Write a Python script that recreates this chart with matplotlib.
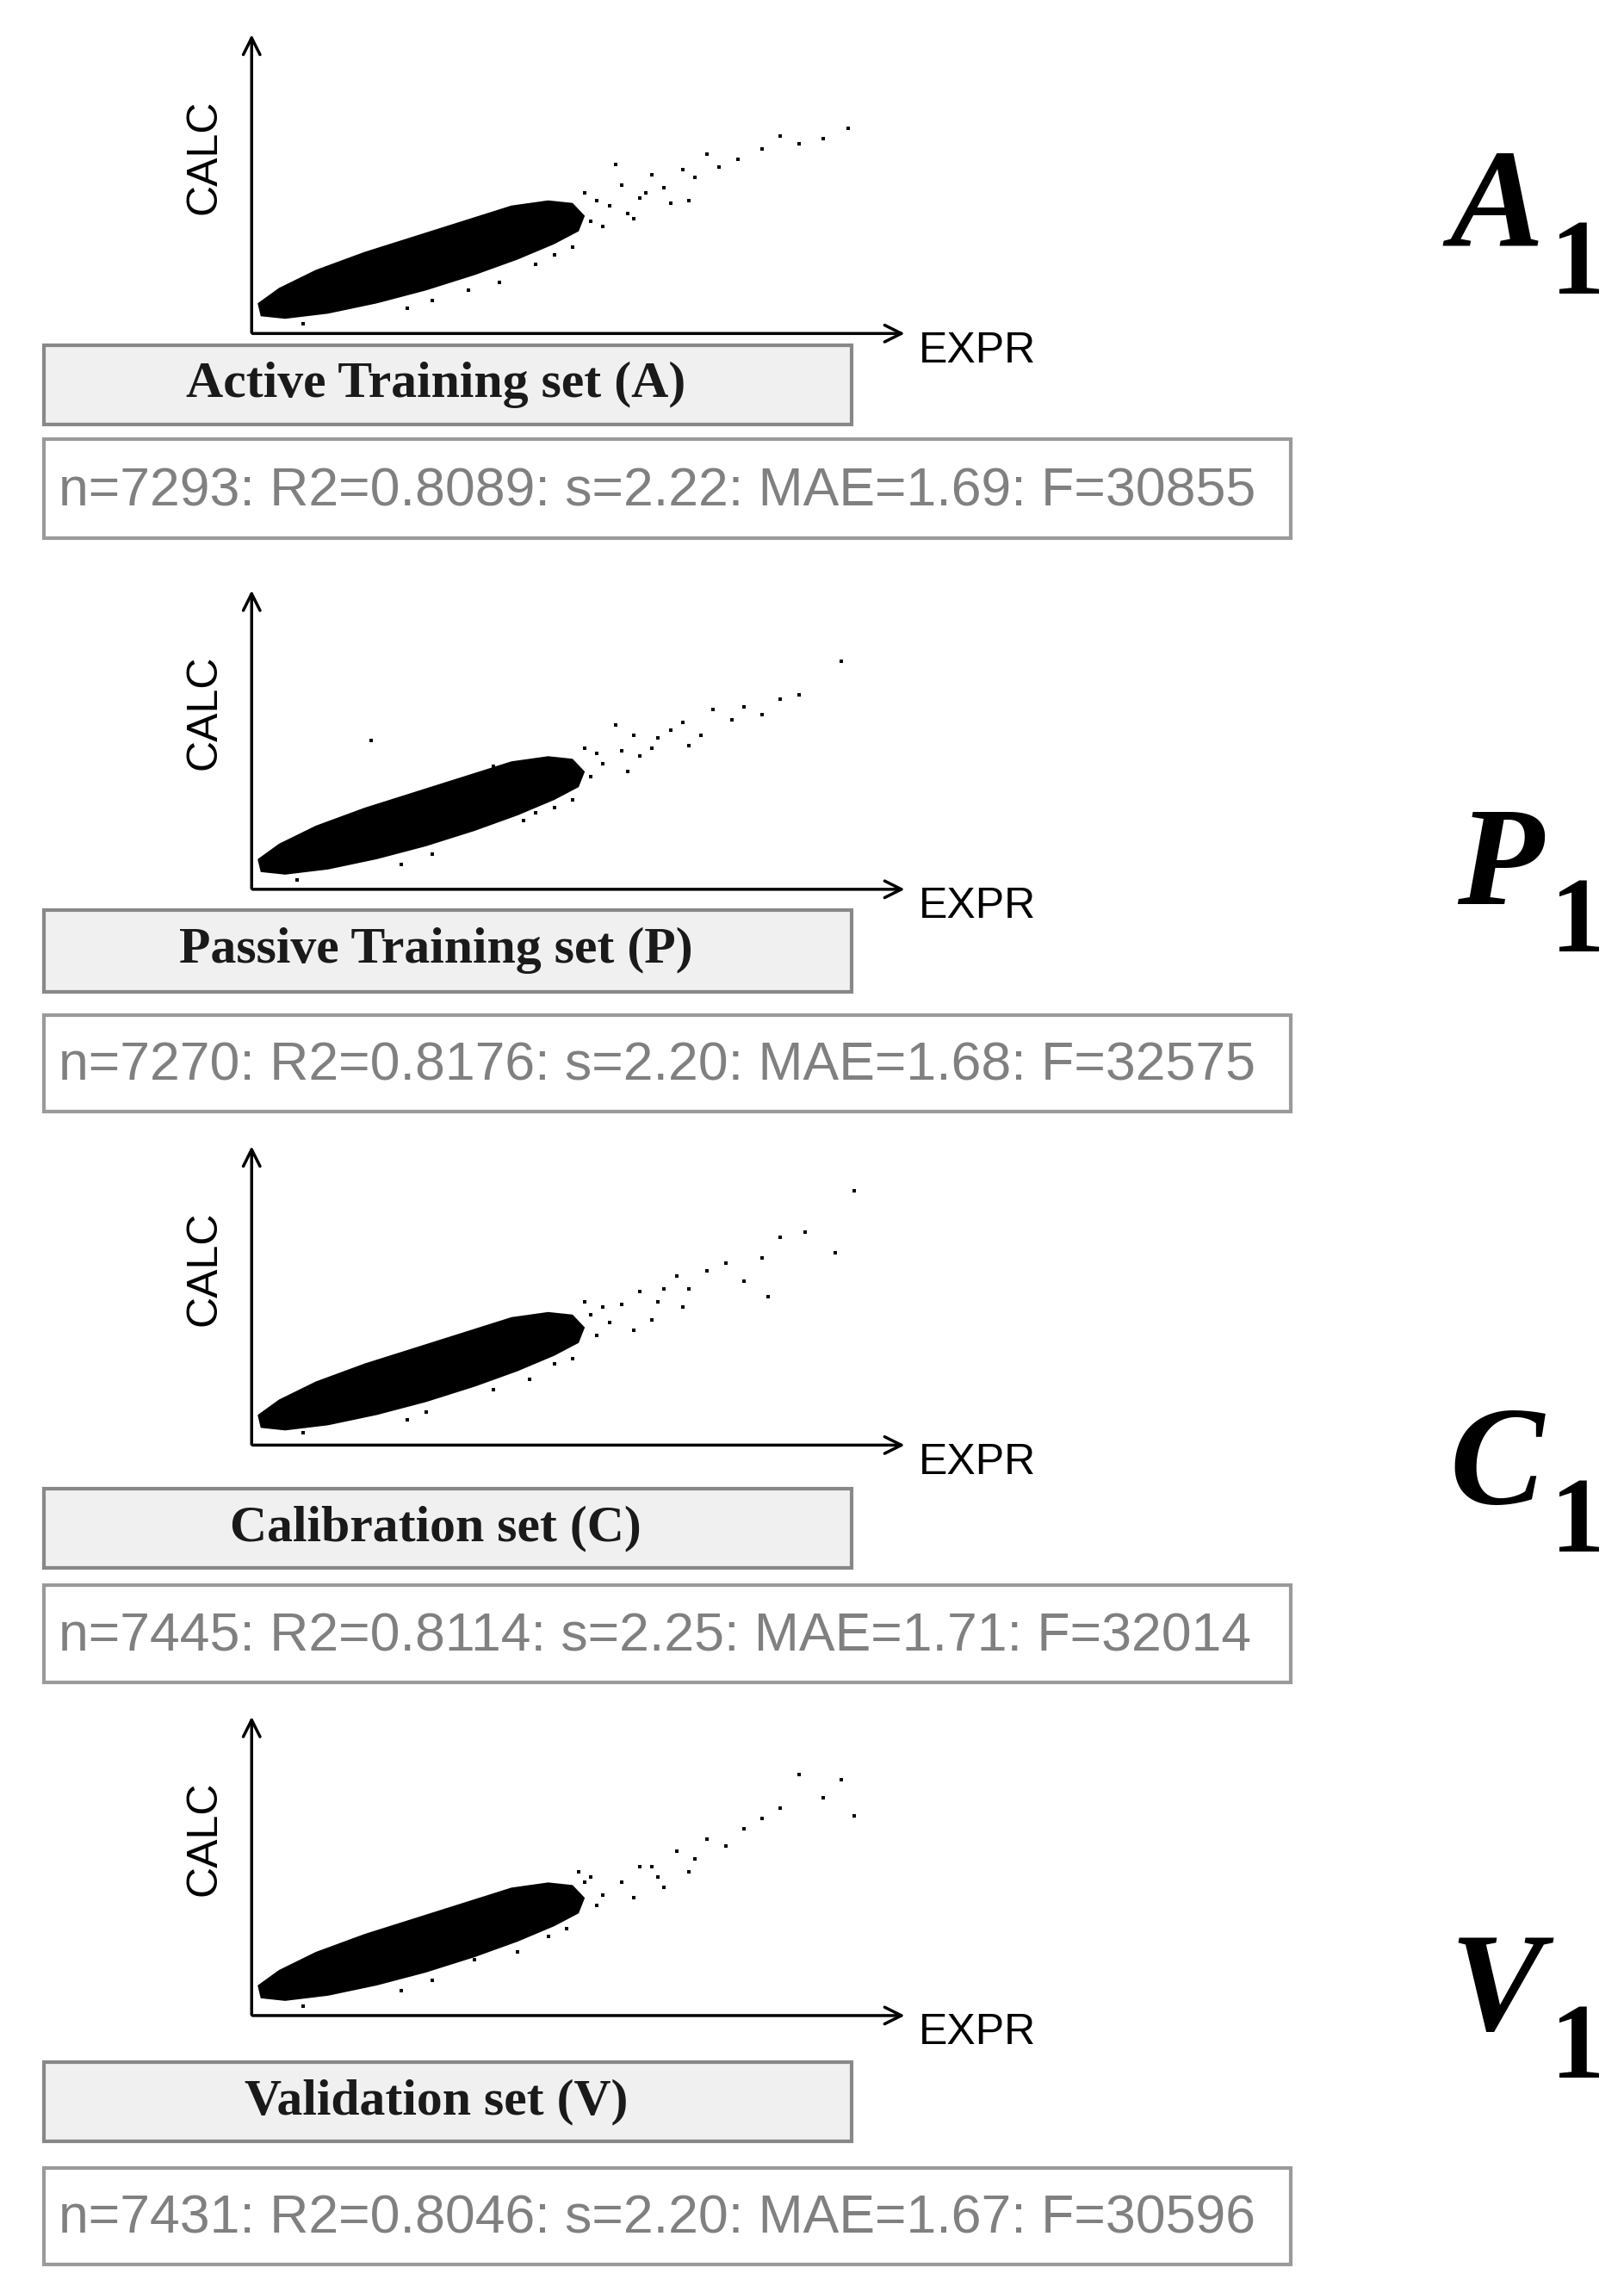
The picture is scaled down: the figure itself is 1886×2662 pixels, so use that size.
import matplotlib.pyplot as plt
from matplotlib.patches import Rectangle, Polygon

W, H = 1110, 1567  # layout grid (reference units)

titles = ["Active Training set (A)", "Passive Training set (P)",
          "Calibration set (C)", "Validation set (V)"]
stats = ["n=7293: R2=0.8089: s=2.22: MAE=1.69: F=30855",
         "n=7270: R2=0.8176: s=2.20: MAE=1.68: F=32575",
         "n=7445: R2=0.8114: s=2.25: MAE=1.71: F=32014",
         "n=7431: R2=0.8046: s=2.20: MAE=1.67: F=30596"]
letters = ["A", "P", "C", "V"]

# dense core outline of each cloud (EXPR, CALC) in 0..10 units
core_x = [0.1, 0.5, 1.2, 2.0, 2.8, 3.6, 4.3, 4.9, 5.3, 5.4, 5.2, 4.8, 4.2, 3.4, 2.6, 1.8, 1.0, 0.4, 0.05]
core_y = [0.5, 0.4, 0.6, 1.0, 1.5, 2.1, 2.7, 3.3, 3.8, 4.4, 4.9, 5.0, 4.8, 4.2, 3.6, 3.0, 2.3, 1.6, 1.0]

# sparse outlying points
sparse_x = [
    [5.8, 6.0, 6.3, 6.5, 6.7, 7.0, 7.2, 7.4, 7.6, 7.9, 8.3, 8.6, 8.9, 9.3, 9.7, 6.1, 6.8, 5.9, 7.1, 4.0, 3.5, 6.4,
     5.5, 5.6, 5.7, 5.4, 4.6, 4.9, 2.5, 2.9, 1.4, 1.0, 3.3, 3.9, 6.2, 5.2, 0.8, 2.1],
    [5.7, 6.0, 6.2, 6.5, 6.8, 7.0, 7.3, 7.5, 7.8, 8.0, 8.3, 8.6, 8.9, 9.6, 1.9, 4.4, 6.3, 7.1, 5.9, 4.6,
     5.5, 5.6, 5.4, 4.9, 2.4, 2.9, 1.2, 3.5, 3.9, 6.1, 5.2, 0.7, 2.0, 6.6],
    [5.8, 6.0, 6.3, 6.6, 6.9, 7.1, 7.4, 7.7, 8.0, 8.3, 8.6, 9.0, 9.5, 9.8, 8.4, 6.5, 4.5, 7.0, 3.9, 5.5,
     5.6, 5.7, 5.4, 4.9, 2.5, 2.8, 1.3, 3.4, 6.2, 5.2, 0.8, 2.2, 6.7],
    [5.7, 6.0, 6.3, 6.6, 6.9, 7.2, 7.4, 7.7, 8.0, 8.3, 8.6, 8.9, 9.3, 9.6, 9.8, 6.7, 4.3, 7.1, 3.6, 5.4,
     5.6, 5.5, 5.3, 4.8, 2.4, 2.9, 1.2, 3.3, 6.2, 5.1, 0.8, 2.1, 6.5],
]
sparse_y = [
    [4.8, 5.6, 5.1, 6.0, 5.5, 6.2, 5.9, 6.8, 6.3, 6.6, 7.0, 7.5, 7.2, 7.4, 7.8, 4.5, 4.9, 6.4, 5.0, 1.8, 1.5, 5.3,
     4.2, 5.0, 4.0, 5.3, 2.5, 2.9, 0.8, 1.1, 2.4, 2.0, 3.9, 4.5, 4.3, 3.2, 0.2, 2.9],
    [4.7, 5.2, 5.8, 5.3, 6.0, 6.3, 5.8, 6.8, 6.4, 6.9, 6.6, 7.2, 7.4, 8.7, 5.6, 2.5, 5.0, 5.4, 6.2, 2.8,
     4.2, 5.1, 5.3, 3.0, 0.8, 1.2, 2.2, 4.0, 4.6, 4.4, 3.3, 0.2, 2.8, 5.7],
    [4.6, 5.3, 5.8, 5.4, 6.4, 5.9, 6.6, 6.9, 6.2, 7.1, 7.9, 8.1, 7.3, 9.7, 5.6, 4.7, 2.4, 5.2, 2.0, 4.9,
     4.1, 5.2, 5.4, 3.0, 0.8, 1.1, 2.3, 4.0, 4.3, 3.2, 0.3, 2.9, 5.9],
    [4.5, 5.0, 5.6, 5.2, 6.2, 5.9, 6.7, 6.4, 7.1, 7.5, 7.9, 9.2, 8.3, 9.0, 7.6, 4.8, 2.3, 5.4, 2.0, 5.0,
     4.1, 5.2, 5.4, 2.9, 0.8, 1.2, 2.2, 3.9, 4.4, 3.2, 0.2, 2.8, 5.6],
]

origins_y = [228, 608, 988, 1378]
tops_y = [22, 402, 782, 1172]
button_y = [(236, 290), (622, 678), (1018, 1072), (1410, 1464)]
stats_y = [(300, 368), (694, 760), (1084, 1150), (1482, 1548)]
letter_y = [145, 595, 1005, 1365]

fig = plt.figure(figsize=(18.86, 26.62), dpi=100)
ax = fig.add_axes([0, 0, 1, 1])
ax.set_xlim(0, W)
ax.set_ylim(H, 0)
ax.axis("off")

x0, x1 = 172, 620
for i in range(4):
    oy, ty = origins_y[i], tops_y[i]
    # axes arrows
    ax.annotate("", xy=(x1, oy), xytext=(x0 - 1, oy),
                arrowprops=dict(arrowstyle="->", lw=2.5, color="black", mutation_scale=35))
    ax.annotate("", xy=(x0, ty), xytext=(x0, oy + 1),
                arrowprops=dict(arrowstyle="->", lw=2.5, color="black", mutation_scale=35))
    ax.text(628, oy + 12, "EXPR", fontsize=36, family="Liberation Sans", va="center", ha="left")
    ax.text(140, (oy + ty) / 2 - 18, "CALC", fontsize=36, family="Liberation Sans",
            rotation=90, va="center", ha="center")

    # scatter inset
    sax = fig.add_axes([(x0 + 2) / W, 1 - (oy - 3) / H, (x1 - 30 - x0) / W, (oy - ty - 30) / H])
    sax.set_xlim(0, 10)
    sax.set_ylim(0, 10)
    sax.axis("off")
    sax.add_patch(Polygon(list(zip(core_x, core_y)), closed=True, color="black", lw=0))
    sax.scatter(sparse_x[i], sparse_y[i], s=12, color="black", marker="s", lw=0)

    # title button
    b0, b1 = button_y[i]
    ax.add_patch(Rectangle((30, b0), 552, b1 - b0, facecolor="#f0f0f0",
                           edgecolor="#888888", lw=3))
    ax.text(298, (b0 + b1) / 2, titles[i], fontsize=43, family="Liberation Serif",
            weight="bold", ha="center", va="center", color="#1a1a1a")

    # stats box
    s0, s1 = stats_y[i]
    ax.add_patch(Rectangle((30, s0), 852, s1 - s0, facecolor="white",
                           edgecolor="#9a9a9a", lw=3))
    ax.text(40, (s0 + s1) / 2 + 2, stats[i], fontsize=45, family="Liberation Sans",
            ha="left", va="center", color="#808080")

    # panel letter
    ax.text(1055, letter_y[i], letters[i], fontsize=118, family="Liberation Serif",
            weight="bold", style="italic", ha="right", va="center")
    ax.text(1060, letter_y[i] + 38, "1", fontsize=90, family="Liberation Serif",
            weight="bold", ha="left", va="center")

fig.savefig("out.png", dpi=100)
